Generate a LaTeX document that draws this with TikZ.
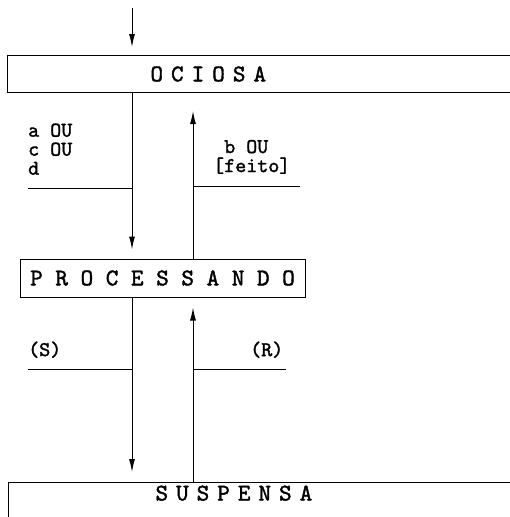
\documentclass[tikz,border=0pt]{standalone}
\usepackage{fontspec}
\setmonofont{lmmono10-regular.otf}[FakeBold=1.6]
\usetikzlibrary{arrows.meta, positioning}

\begin{document}
\begin{tikzpicture}[
    x=1pt,
    y=1pt,
    >={Latex[length=13pt,width=6pt]},
    state/.style={rectangle, draw, line width=1pt, inner sep=0pt, font=\fontsize{24}{24}\selectfont\ttfamily\bfseries},
    cond/.style={inner sep=0pt, align=left, font=\fontsize{21}{19}\selectfont\ttfamily\bfseries},
    line/.style={line width=1pt},
    flow/.style={->, line width=1pt}
]
\useasboundingbox (0,0) rectangle (510,-517);
\clip (0,0) rectangle (510,-517);

\node[state, anchor=north west, minimum height=37, text width=540, align=left] (ociosa) at (7,-55) {\hspace*{143pt}O C I O S A};
\node[state, minimum width=285, minimum height=38] (proc) at (162.5,-278) {P R O C E S S A N D O};
\node[state, anchor=north west, inner ysep=4pt, text height=14pt, text depth=40pt, text width=540, align=left] (suspensa) at (8,-482) {\hspace*{147pt}S U S P E N S A};

\coordinate (start) at (132,-8);
\coordinate (lx) at (132,0);
\coordinate (rx) at (193,0);

\draw[flow, shorten >=8pt] (start) -- (start |- ociosa.north);
\draw[flow, shorten >=9pt] (ociosa.south -| lx) -- (proc.north -| lx);
\draw[flow, shorten >=18pt] (proc.north -| rx) -- (ociosa.south -| rx);
\draw[flow, shorten >=10pt] (proc.south -| lx) -- (suspensa.north -| lx);
\draw[flow, shorten >=10pt] (suspensa.north -| rx) -- (proc.south -| rx);

\coordinate (acd) at (28,-188);
\coordinate (bf) at (300,-186);
\coordinate (s) at (28,-369);
\coordinate (r) at (286,-369);

\draw[line] (acd) -- (acd -| lx);
\draw[line] (bf) -- (bf -| rx);
\draw[line] (s) -- (s -| lx);
\draw[line] (r) -- (r -| rx);

\node[cond, anchor=south west] (acdtxt) at ([yshift=13pt]acd) {a OU\\c OU\\d};
\node[cond, anchor=south west] (bftxt) at (213,-174) {~b OU\\{[feito]}};
\node[cond, anchor=south west] (stxt) at ([yshift=11pt]s) {(S)};
\node[cond, anchor=south west] (rtxt) at (250,-358) {(R)};
\end{tikzpicture}
\end{document}
